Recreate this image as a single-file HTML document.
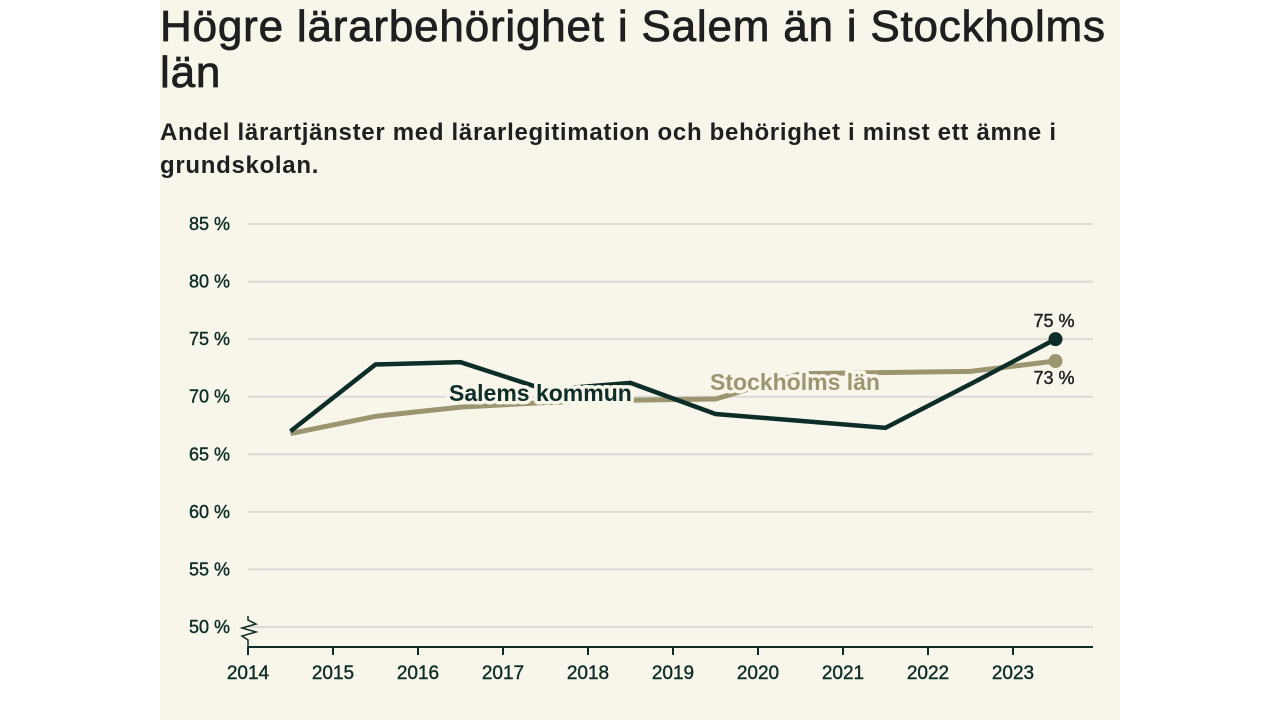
<!DOCTYPE html>
<html><head><meta charset="utf-8"><style>
body{margin:0;width:1280px;height:720px;background:#fff;font-family:"Liberation Sans",sans-serif;overflow:hidden}
#panel{position:absolute;left:160px;top:0;width:960px;height:720px;background:#f8f5ea}
h1{position:absolute;left:160px;top:4px;margin:0;font-size:44px;line-height:46px;font-weight:normal;color:#1f1f1f;width:960px;-webkit-text-stroke:0.8px #1f1f1f;letter-spacing:0.8px}
h2{position:absolute;left:160px;top:116px;margin:0;font-size:24px;line-height:33px;font-weight:bold;color:#1f1f1f;width:960px;letter-spacing:0.7px}
svg{position:absolute;left:0;top:0}
</style></head><body>
<div id="panel"></div>
<h1>Högre lärarbehörighet i Salem än i Stockholms<br>län</h1>
<h2>Andel lärartjänster med lärarlegitimation och behörighet i minst ett ämne i<br>grundskolan.</h2>
<svg id="chart" width="1280" height="720"></svg>
<script>
const years=[2014,2015,2016,2017,2018,2019,2020,2021,2022,2023];
const yTicks=[50,55,60,65,70,75,80,85];
const salem=[67.0,72.8,73.0,70.6,71.2,68.5,67.9,67.3,71.1,75.0];
const stockholm=[66.8,68.3,69.1,69.5,69.7,69.8,72.0,72.1,72.2,73.1];
const NS="http://www.w3.org/2000/svg";
const svg=document.getElementById('chart');
const X=v=>248+(v-2014)*85;
const Y=v=>627-(v-50)*11.514;
function mk(t,a){const e=document.createElementNS(NS,t);for(const k in a)e.setAttribute(k,a[k]);svg.appendChild(e);return e;}
yTicks.forEach(t=>{
 const g=mk('line',{x1:248,x2:1093,y1:Y(t),y2:Y(t),stroke:'#dddad6','stroke-width':2});
 
 
 const l=mk('text',{x:230,y:Y(t)+6,'text-anchor':'end','font-size':18,fill:'#0d2e28',stroke:'#0d2e28','stroke-width':0.4});l.textContent=t+' %';
 
 
});
const br=mk('path',{d:'M248 616 L248 620 L256 624 L242 628 L256 632 L242 636 L248 640 L248 647',fill:'none',stroke:'#0d2e28','stroke-width':1.5});


const ax=mk('line',{x1:248,x2:1093,y1:647,y2:647,stroke:'#0d2e28','stroke-width':2});


years.forEach(y=>{
 const tk=mk('line',{x1:X(y),x2:X(y),y1:647,y2:655,stroke:'#0d2e28','stroke-width':2});
 
 
 const l=mk('text',{x:X(y),y:679,'text-anchor':'middle','font-size':19,fill:'#0d2e28',stroke:'#0d2e28','stroke-width':0.4});l.textContent=y;
 
 
});
function line(data,col,name){
 const d=data.map((v,i)=>(i?'L':'M')+X(years[i]+0.5)+' '+Y(v)).join(' ');
 const p=mk('path',{d:d,fill:'none',stroke:col,'stroke-width':name==='salem-line'?4.5:5,'stroke-linejoin':'miter'});
 
 
 const n=data.length-1;
 const c=mk('circle',{cx:X(years[n]+0.5),cy:Y(data[n]),r:7,fill:col});
 
 
}
line(stockholm,'#9b9570','stockholm-line');
line(salem,'#0d2e28','salem-line');
function lab(x,y,t,col,name){
 const e=mk('text',{x:x,y:y,'font-size':23,'font-weight':'bold',fill:col,stroke:'#f8f5ea','stroke-width':7,'paint-order':'stroke','stroke-linejoin':'round'});
 e.textContent=t;
 
 
}
lab(449,401,'Salems kommun','#0d2e28','salem-label');
lab(710,390,'Stockholms län','#9b9570','stockholm-label');
const n=salem.length-1;
const v1=mk('text',{x:1054,y:Y(salem[n])-12,'text-anchor':'middle','font-size':18,fill:'#1f1f1f',stroke:'#1f1f1f','stroke-width':0.4});v1.textContent=Math.round(salem[n])+' %';


const v2=mk('text',{x:1054,y:Y(stockholm[n])+23,'text-anchor':'middle','font-size':18,fill:'#1f1f1f',stroke:'#1f1f1f','stroke-width':0.4});v2.textContent=Math.round(stockholm[n])+' %';


</script>
</body></html>
